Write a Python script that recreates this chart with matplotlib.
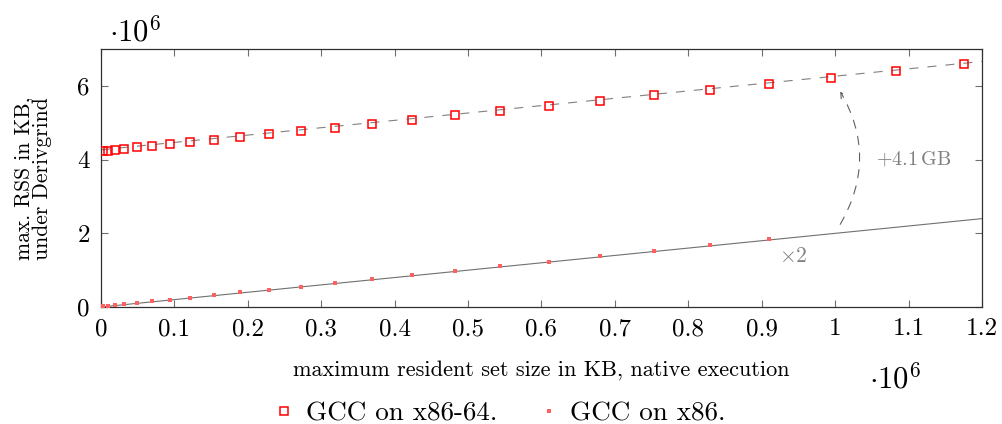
import numpy as np
import matplotlib
matplotlib.use('Agg')
import matplotlib.pyplot as plt
from matplotlib.patches import FancyArrowPatch

plt.rcParams['font.family'] = 'serif'
plt.rcParams['font.serif'] = ['cmr10', 'DejaVu Serif']
plt.rcParams['mathtext.fontset'] = 'cm'
plt.rcParams['axes.unicode_minus'] = False
plt.rcParams['axes.formatter.use_mathtext'] = True
plt.rcParams['lines.scale_dashes'] = False

# native max RSS (KB / 1e6), shared by both series
native_rss = [0.0031, 0.0091, 0.0191, 0.0318, 0.0487, 0.0692, 0.0937, 0.1218,
              0.1542, 0.1892, 0.2282, 0.2719, 0.3192, 0.3697, 0.4243, 0.4820,
              0.5439, 0.6098, 0.6794, 0.7527, 0.8299, 0.9104, 0.9949, 1.0832,
              1.1750]

# max RSS under Derivgrind (KB / 1e6)
rss_x86_64 = [4.244, 4.244, 4.271, 4.298, 4.336, 4.363, 4.418, 4.472,
              4.534, 4.616, 4.697, 4.771, 4.868, 4.969, 5.086, 5.205,
              5.330, 5.458, 5.593, 5.748, 5.900, 6.063, 6.226, 6.400,
              6.598]
rss_x86 = [0.019, 0.019, 0.046, 0.081, 0.117, 0.155, 0.198, 0.253,
           0.318, 0.399, 0.470, 0.551, 0.652, 0.752, 0.861, 0.977,
           1.105, 1.230, 1.377, 1.521, 1.683, 1.838]

# reference lines: y = factor * x (+ offset)
factor = 2.0
offset = 4.27
line_x = [0.0, 1.2]

x_ticks = [0, 0.1, 0.2, 0.3, 0.4, 0.5, 0.6, 0.7, 0.8, 0.9, 1, 1.1, 1.2]
y_ticks = [0, 2, 4, 6]

fig = plt.figure(figsize=(10.02, 4.24), dpi=100)
ax = fig.add_axes([0.1008, 0.276, 0.8792, 0.6077])

lx = np.array(line_x) * 1e6
ax.plot(lx, factor * lx + offset * 1e6, color='#808080', lw=0.8,
        dashes=(6.5, 6.5), zorder=1)
ax.plot(lx, factor * lx, color='#707070', lw=0.8, zorder=1)

nx = np.array(native_rss) * 1e6
ax.plot(nx, np.array(rss_x86_64) * 1e6, 's', ls='none', ms=5.5, mew=1.1,
        mec='red', mfc='none', label='GCC on x86-64.', zorder=3)
ax.plot(nx[:len(rss_x86)], np.array(rss_x86) * 1e6, 's', ls='none', ms=3.2,
        mew=0, color='#ff6060', label='GCC on x86.', zorder=3)

arrow = FancyArrowPatch((1.005e6, 2.18e6), (1.005e6, 5.92e6),
                        connectionstyle='arc3,rad=0.3', arrowstyle='->,head_length=4,head_width=2',
                        color='#606060', lw=0.8, linestyle=(0, (6, 6)))
ax.add_patch(arrow)
ax.text(1.107e6, 4.02e6, r'$+4.1\,\mathrm{GB}$', color='#808080', fontsize=14.5,
        ha='center', va='center')
ax.text(0.943e6, 1.385e6, r'$\times 2$', color='#808080', fontsize=15.5,
        ha='center', va='center')

ax.set_xlim(0, 1.2e6)
ax.set_ylim(0, 7e6)
ax.set_xticks(np.array(x_ticks) * 1e6)
ax.set_xticklabels([str(t) for t in x_ticks])
ax.set_yticks(np.array(y_ticks) * 1e6)
ax.set_yticklabels([str(t) for t in y_ticks])
ax.tick_params(direction='in', length=5, width=0.8, color='#707070',
               labelsize=18, top=True, right=True, pad=8)
for s in ax.spines.values():
    s.set_color('#303030')
    s.set_linewidth(0.9)

ax.set_xlabel('maximum resident set size in KB, native execution', fontsize=16,
              labelpad=14)
ax.set_ylabel('max. RSS in KB,\nunder Derivgrind', fontsize=15.5, labelpad=18,
              linespacing=0.95)

fig.text(0.135, 0.925, r'$\cdot 10^6$', fontsize=22, ha='center', va='center')
fig.text(0.893, 0.108, r'$\cdot 10^6$', fontsize=22, ha='center', va='center')

fig.legend(loc='lower center', bbox_to_anchor=(0.5, -0.06), ncol=2,
           frameon=False, fontsize=19.5, handlelength=0.6, handletextpad=0.5,
           columnspacing=1.6, markerscale=1.0)

fig.savefig('out.png', dpi=100)
